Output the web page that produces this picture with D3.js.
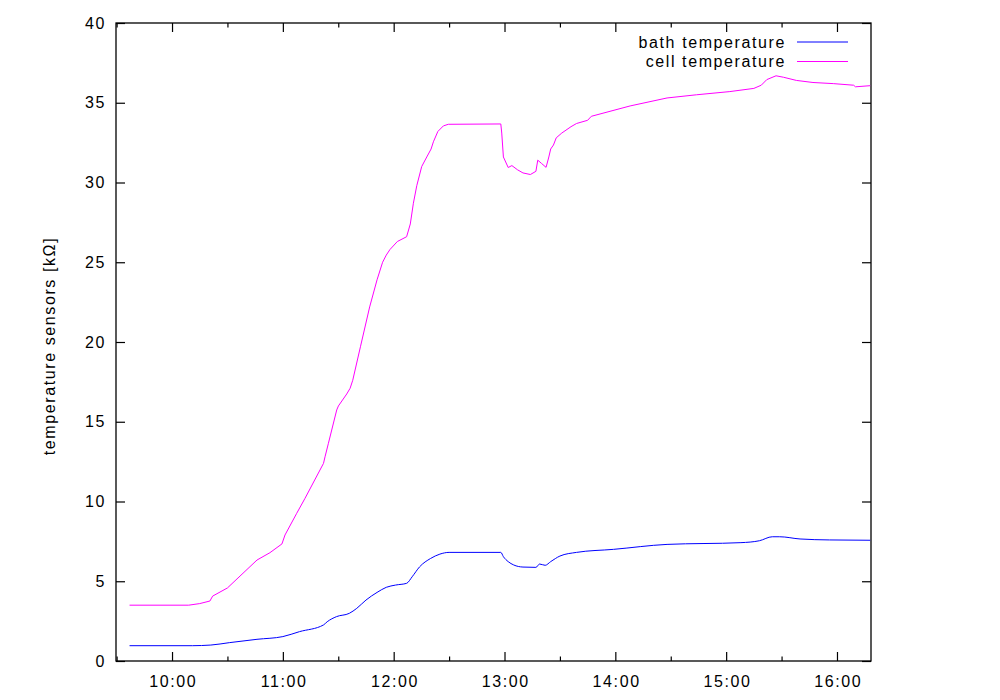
<!DOCTYPE html>
<html><head><meta charset="utf-8">
<script src="https://cdn.jsdelivr.net/npm/d3@7"></script>
<style>
body{margin:0;background:#fff}
text{font-family:"Liberation Sans",Arial,Helvetica,sans-serif;font-size:16px;letter-spacing:1.6px;fill:#000}
</style>
</head><body>
<svg id="chart" width="1000" height="700"></svg>
<script>
const seriesNames = ["bath temperature", "cell temperature"];
const seriesColors = ["#0000ff", "#ff00ff"];
const yLabel = "temperature sensors [kΩ]";
const xDomain = ["09:29:40", "16:18:25"];
const yDomain = [0, 40];
const yTickValues = [0, 5, 10, 15, 20, 25, 30, 35, 40];
const xTickLabels = ["10:00", "11:00", "12:00", "13:00", "14:00", "15:00", "16:00"];
const xMinorTicks = ["09:30", "10:30", "11:30", "12:30", "13:30", "14:30", "15:30", "16:30"];

const bathTimes = ["09:37:00","10:11:00","10:21:00","10:31:00","10:46:00","11:00:00","11:09:00","11:22:00","11:24:00","11:29:00","11:36:00","11:40:00","11:45:00","11:51:00","11:56:00","12:01:00","12:07:00","12:10:00","12:14:00","12:20:00","12:25:00","12:30:00","12:58:00","12:59:24","13:02:00","13:05:00","13:10:00","13:17:00","13:19:00","13:22:00","13:25:00","13:30:00","13:39:00","13:59:00","14:28:00","15:08:00","15:18:00","15:25:00","15:29:00","15:40:00","15:56:00","16:18:00"];
const bathValues = [0.96,0.96,1.00,1.15,1.36,1.53,1.84,2.26,2.46,2.78,2.99,3.30,3.82,4.30,4.62,4.76,4.87,5.28,5.90,6.43,6.70,6.81,6.81,6.54,6.23,6.02,5.89,5.87,6.08,6.00,6.23,6.58,6.81,7.00,7.31,7.42,7.54,7.79,7.79,7.65,7.59,7.57];

const cellTimes = ["09:37:00","10:09:00","10:15:00","10:20:30","10:22:00","10:30:00","10:46:00","10:53:00","10:59:30","11:01:10","11:07:30","11:12:00","11:22:00","11:22:50","11:24:40","11:29:10","11:30:05","11:34:35","11:36:25","11:37:50","11:42:00","11:47:00","11:51:00","11:54:00","11:56:00","11:58:00","12:02:00","12:07:00","12:09:00","12:10:40","12:12:30","12:15:10","12:17:55","12:20:15","12:21:30","12:23:55","12:26:55","12:29:35","12:58:00","12:58:30","12:59:24","13:02:00","13:04:00","13:07:00","13:10:00","13:14:00","13:17:00","13:18:00","13:20:00","13:22:30","13:24:00","13:25:00","13:26:30","13:28:00","13:31:00","13:36:00","13:39:00","13:45:00","13:47:00","14:08:00","14:28:00","14:44:00","15:02:00","15:15:00","15:19:00","15:22:00","15:27:00","15:31:00","15:38:00","15:47:00","15:58:00","16:09:00","16:10:00","16:18:00"];
const cellValues = [3.5,3.5,3.6,3.76,4.07,4.58,6.33,6.79,7.34,7.9,9.26,10.2,12.39,12.8,13.65,15.74,15.99,16.74,17.1,17.6,19.7,22.2,23.9,25.0,25.45,25.8,26.3,26.6,27.4,28.7,29.8,31.0,31.6,32.1,32.55,33.2,33.55,33.65,33.67,33.1,31.6,30.94,31.06,30.8,30.6,30.5,30.7,31.4,31.2,30.95,31.6,32.1,32.35,32.8,33.1,33.5,33.7,33.9,34.15,34.8,35.3,35.5,35.7,35.9,36.1,36.45,36.69,36.6,36.4,36.27,36.2,36.1,36.0,36.07];

const parseT = s => d3.timeParse("%Y-%m-%d %H:%M:%S")("2000-01-01 " + (s.length === 5 ? s + ":00" : s));
const fmt = d3.timeFormat("%H:%M");

const mLeft = 116, mRight = 871, mTop = 23, mBottom = 661;
const svg = d3.select("#chart");

const x = d3.scaleTime().domain(xDomain.map(parseT)).range([mLeft, mRight]);
const y = d3.scaleLinear().domain(yDomain).range([mBottom, mTop]);

svg.append("defs").append("clipPath").attr("id","clip")
  .append("rect").attr("x", mLeft).attr("y", mTop).attr("width", mRight-mLeft).attr("height", mBottom-mTop);

function styleAxis(g){
  g.select(".domain").remove();
  g.selectAll(".tick line").attr("stroke","#000").attr("stroke-width",1.2);
}

const majorX = xTickLabels.map(parseT);
const minorX = xMinorTicks.map(parseT).filter(d => d > x.domain()[0] && d < x.domain()[1]);

svg.append("g").attr("transform",`translate(0,${mBottom})`)
  .call(d3.axisBottom(x).tickValues(majorX).tickFormat(fmt).tickSizeInner(-9).tickSizeOuter(0).tickPadding(15))
  .call(styleAxis)
  .call(g => g.selectAll("text").attr("font-size",null).attr("font-family",null).attr("dx","0.8"));
svg.append("g").attr("transform",`translate(0,${mBottom})`)
  .call(d3.axisBottom(x).tickValues(minorX).tickFormat("").tickSizeInner(-4.5).tickSizeOuter(0))
  .call(styleAxis);
svg.append("g").attr("transform",`translate(0,${mTop})`)
  .call(d3.axisTop(x).tickValues(majorX).tickFormat("").tickSizeInner(-9).tickSizeOuter(0))
  .call(styleAxis);
svg.append("g").attr("transform",`translate(0,${mTop})`)
  .call(d3.axisTop(x).tickValues(minorX).tickFormat("").tickSizeInner(-4.5).tickSizeOuter(0))
  .call(styleAxis);

svg.append("g").attr("transform",`translate(${mLeft},0)`)
  .call(d3.axisLeft(y).tickValues(yTickValues).tickSizeInner(-9).tickSizeOuter(0).tickPadding(10))
  .call(styleAxis)
  .call(g => g.selectAll("text").attr("font-size",null).attr("font-family",null));
svg.append("g").attr("transform",`translate(${mRight},0)`)
  .call(d3.axisRight(y).tickValues(yTickValues).tickFormat("").tickSizeInner(-9).tickSizeOuter(0))
  .call(styleAxis);

svg.append("rect").attr("x", mLeft).attr("y", mTop).attr("width", mRight-mLeft).attr("height", mBottom-mTop)
  .attr("fill","none").attr("stroke","#000").attr("stroke-width",1.3);

const series = [
  bathTimes.map((t,i) => ({t: parseT(t), v: bathValues[i]})),
  cellTimes.map((t,i) => ({t: parseT(t), v: cellValues[i]}))
];
const curves = [d3.curveMonotoneX, d3.curveLinear];
series.forEach((s,i) => {
  const line = d3.line().x(d => x(d.t)).y(d => y(d.v)).curve(curves[i]);
  svg.append("path").datum(s).attr("d", line).attr("fill","none")
    .attr("stroke", seriesColors[i]).attr("stroke-width",1).attr("stroke-linejoin","round")
    .attr("clip-path","url(#clip)");
});

seriesNames.forEach((name,i) => {
  const yy = 42 + i*19.5;
  svg.append("text").attr("x", 786).attr("y", yy + 5.5).attr("text-anchor","end").text(name);
  svg.append("line").attr("x1", 797).attr("x2", 848).attr("y1", yy).attr("y2", yy)
    .attr("stroke", seriesColors[i]).attr("stroke-width",1);
});

svg.append("text").attr("transform","translate(55,346) rotate(-90)").attr("text-anchor","middle").text(yLabel);
</script>
</body></html>
